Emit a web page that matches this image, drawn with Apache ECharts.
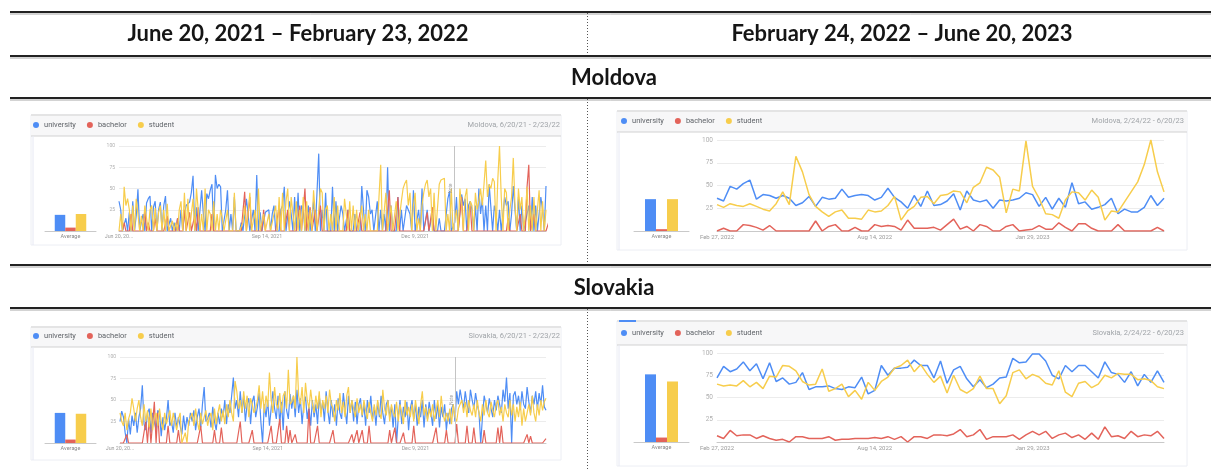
<!DOCTYPE html>
<html><head><meta charset="utf-8">
<script src="https://cdn.jsdelivr.net/npm/echarts@6/dist/echarts.min.js"></script>
<style>html,body{margin:0;padding:0;background:#fff}#c{width:1211px;height:471px}</style>
</head><body><div id="c"></div>
<script>
// ---------------- DATA ----------------
const columnHeaders = ['June 20, 2021 \u2013 February 23, 2022', 'February 24, 2022 \u2013 June 20, 2023'];
const countryHeaders = ['Moldova', 'Slovakia'];
const seriesNames = ['university', 'bachelor', 'student'];
const panelLabels = ['Moldova, 6/20/21 - 2/23/22', 'Moldova, 2/24/22 - 6/20/23', 'Slovakia, 6/20/21 - 2/23/22', 'Slovakia, 2/24/22 - 6/20/23'];
const averageLabel = 'Average';
const noteDate = 'Jan 1, 2022';
const noteText = 'Note';
const dailyTickDates = ['Jun 20, 2021', 'Sep 14, 2021', 'Dec 9, 2021'];
const dailyTickText = ['Jun 20, 20...', 'Sep 14, 2021', 'Dec 9, 2021'];
const weeklyTickDates = ['Feb 27, 2022', 'Aug 14, 2022', 'Jan 29, 2023'];
const weeklyTickText = ['Feb 27, 2022', 'Aug 14, 2022', 'Jan 29, 2023'];

// Moldova, daily Jun 20 2021 - Feb 23 2022
const moldovaDailyUniversity = [35,25,0,0,15,0,22,0,35,0,18,49,0,0,20,0,33,38,41,0,28,35,0,25,34,0,30,41,0,0,15,0,10,0,15,0,25,0,20,30,28,34,45,65,0,28,0,0,48,20,0,44,38,48,55,0,66,50,55,52,0,0,25,48,0,20,0,40,0,0,0,10,0,0,38,40,0,0,25,0,66,0,22,0,0,22,23,25,0,20,30,0,0,0,25,30,52,0,0,35,20,0,40,0,45,0,30,25,0,0,30,0,0,35,0,0,91,0,25,0,45,0,0,0,52,0,35,0,0,30,20,0,0,25,0,0,0,20,0,0,0,53,25,0,48,40,20,25,0,0,35,0,25,0,20,0,75,0,30,0,0,0,40,0,25,0,0,30,25,20,0,48,0,0,25,0,50,0,0,25,0,0,20,0,0,0,15,0,0,0,0,38,47,0,0,10,40,0,0,43,30,38,0,30,35,25,0,30,0,50,20,38,0,30,0,55,57,0,30,20,0,25,0,0,40,30,35,0,20,53,25,0,40,0,30,0,0,20,30,0,40,0,30,0,0,40,25,0,53];
const moldovaDailyBachelor = [0,0,0,10,0,0,0,20,0,0,0,0,0,0,0,25,0,10,0,0,0,15,0,0,0,0,0,0,18,0,0,0,0,0,15,0,0,0,25,0,0,22,0,0,18,0,28,0,0,0,0,0,0,0,20,0,0,0,0,0,0,0,0,0,0,0,0,0,0,0,0,0,0,46,0,0,40,0,0,0,0,0,0,0,25,0,0,0,0,0,0,0,0,30,0,0,0,0,25,0,0,0,0,0,0,30,0,0,50,0,0,28,0,0,25,0,0,30,0,0,0,0,0,0,0,0,0,0,0,0,0,0,0,25,0,0,0,0,0,0,22,0,0,0,0,0,0,0,0,0,0,0,0,0,0,0,0,48,0,0,0,0,40,0,0,0,0,0,0,0,0,0,0,0,0,0,0,0,0,22,0,0,28,0,0,0,0,0,0,0,0,0,0,0,0,0,0,0,0,40,0,0,0,0,30,0,0,0,0,0,0,0,0,0,0,0,0,0,0,0,0,0,0,0,0,0,15,0,0,0,0,0,0,20,0,0,0,52,78,0,0,20,0,0,0,0,0,0,0,0,13];
const moldovaDailyStudent = [0,20,0,52,30,38,25,0,30,0,38,20,0,18,0,30,15,0,25,30,0,27,0,22,30,0,25,0,32,0,0,12,0,10,0,25,35,0,45,0,38,0,20,38,0,50,25,0,20,0,50,0,25,20,0,35,0,20,0,25,15,0,0,25,0,0,0,45,0,0,0,0,10,30,0,0,45,0,0,25,0,50,0,0,20,0,0,20,0,0,20,30,0,40,0,45,0,35,50,0,40,20,0,35,0,25,0,40,0,35,0,25,0,48,20,0,0,50,45,0,25,30,0,20,0,40,0,30,0,0,0,38,20,0,35,0,30,0,25,0,0,30,0,20,0,25,0,0,0,0,0,40,78,0,0,45,0,0,30,0,0,35,0,0,35,50,56,60,30,45,0,30,45,0,15,0,30,45,55,60,40,50,0,45,0,0,55,60,60,62,0,20,0,50,0,0,25,0,50,30,0,40,50,0,35,30,0,45,25,35,50,30,55,83,40,55,50,62,58,0,60,100,40,0,50,45,0,25,40,86,30,0,50,25,40,0,20,52,0,30,0,40,0,25,48,0,35,0,25];
const moldovaDailyAverage = [19, 4, 20];

// Moldova, weekly Feb 27 2022 - Jun 18 2023
const moldovaWeeklyUniversity = [36,33,49,46,52,56,35,40,39,36,39,36,28,31,38,27,37,35,36,46,37,39,40,39,34,37,47,37,32,25,39,27,44,28,29,33,41,23,44,34,32,34,25,34,33,34,36,42,40,27,37,24,36,26,53,30,32,24,26,29,36,19,24,21,21,26,39,28,36];
const moldovaWeeklyBachelor = [0,3,0,0,7,6,4,1,6,0,0,0,0,0,0,11,0,5,7,0,0,4,0,0,7,5,6,5,1,12,3,3,3,4,1,7,13,2,5,0,7,5,0,0,5,7,0,1,2,6,2,2,9,4,0,8,8,3,0,0,0,7,0,0,0,0,0,4,0];
const moldovaWeeklyStudent = [29,26,30,28,27,30,27,24,22,30,43,29,82,65,40,27,21,16,21,23,14,14,13,23,21,22,28,38,12,22,27,37,38,30,39,40,44,43,31,48,53,70,67,59,20,46,44,99,49,36,19,18,14,34,43,42,34,45,37,12,22,21,32,43,54,73,100,65,43];
const moldovaWeeklyAverage = [35, 2, 35];

// Slovakia, daily Jun 20 2021 - Feb 23 2022
const slovakiaDailyUniversity = [25,37,30,12,0,28,10,32,20,35,12,30,40,67,22,15,35,40,12,35,25,15,38,35,8,30,15,28,50,20,25,12,35,18,30,28,10,32,15,30,20,35,25,38,15,30,40,18,45,65,25,28,35,18,42,25,15,35,22,40,30,50,22,45,35,55,76,40,50,30,60,35,55,25,45,52,22,48,55,30,42,58,25,0,45,30,50,20,40,60,40,28,55,22,48,15,60,38,28,57,40,55,30,62,35,52,22,45,54,28,42,20,50,30,45,22,55,35,48,25,60,38,22,50,30,45,20,52,35,28,58,40,22,55,35,50,25,48,22,45,52,30,45,20,50,35,55,28,42,20,48,30,55,35,22,45,50,30,42,18,45,0,30,50,22,42,30,48,15,40,50,28,45,20,42,30,50,18,45,28,48,35,20,50,28,45,18,42,30,45,15,35,22,40,45,25,60,45,62,50,40,60,45,35,62,50,40,58,45,35,0,30,55,45,35,52,40,30,50,38,55,45,35,62,48,76,40,58,0,55,60,45,55,38,60,45,40,65,48,35,55,45,60,40,58,45,67,42,38];
const slovakiaDailyBachelor = [0,0,0,0,10,0,0,0,0,0,0,0,0,0,0,25,0,30,0,0,48,0,35,0,0,0,0,0,20,0,0,0,0,0,15,0,0,0,0,0,0,0,0,0,0,0,0,20,0,0,0,0,0,0,0,15,0,0,0,18,0,0,0,0,0,0,0,0,0,0,25,0,0,0,0,0,0,15,0,0,0,0,0,0,0,0,0,0,20,0,0,0,0,28,0,0,0,20,0,15,0,0,10,0,0,0,0,0,0,0,40,0,0,0,0,20,0,0,0,0,0,0,0,0,15,0,0,0,0,0,0,0,0,0,0,10,0,0,15,0,0,15,0,0,0,20,0,0,0,0,0,0,0,0,0,0,0,15,0,0,18,0,0,0,0,12,0,0,0,0,0,20,0,0,0,0,0,0,0,0,0,0,0,0,18,0,0,0,0,0,15,0,0,0,0,0,22,0,0,0,0,0,20,0,0,0,18,0,0,0,0,0,15,0,0,0,0,0,0,0,18,0,20,0,0,0,0,0,0,0,0,0,0,0,0,0,0,10,0,8,0,0,0,0,0,0,0,0,5];
const slovakiaDailyStudent = [35,25,20,35,15,28,35,52,40,25,40,50,30,20,45,25,38,18,40,15,30,35,20,40,25,15,35,22,30,38,20,35,25,15,28,35,0,0,12,0,25,30,35,20,40,25,15,35,22,30,38,20,30,35,15,40,22,35,45,25,38,22,45,30,50,35,25,72,60,40,50,35,60,40,55,30,52,45,35,40,50,67,40,60,35,55,42,82,50,35,65,45,40,58,35,55,60,40,85,45,48,55,40,100,55,45,65,35,70,50,40,62,45,35,55,40,60,30,50,40,55,35,62,45,40,25,50,38,58,35,48,30,55,65,35,50,40,30,52,35,45,32,50,38,28,48,35,25,45,32,50,35,28,62,40,32,50,25,45,35,30,48,25,45,35,22,50,32,42,30,45,25,50,35,22,45,60,32,42,25,40,30,45,25,38,50,30,55,35,25,35,25,40,22,45,30,25,40,45,50,35,48,30,50,38,32,45,30,50,35,25,45,32,50,35,30,48,38,30,45,50,32,42,25,45,35,30,50,32,45,25,42,30,48,20,40,25,35,45,32,55,35,25,45,32,50,38,48,52];
const slovakiaDailyAverage = [35, 4, 34];

// Slovakia, weekly Feb 27 2022 - Jun 18 2023
const slovakiaWeeklyUniversity = [72,85,79,82,90,80,88,71,89,68,72,65,67,78,59,62,62,63,60,59,62,61,73,54,58,86,75,83,83,84,92,86,86,72,91,66,81,85,71,62,70,61,65,72,73,94,89,90,99,99,91,75,71,86,79,86,86,79,72,90,78,76,67,79,63,76,67,80,67];
const slovakiaWeeklyBachelor = [7,4,13,7,8,8,4,7,4,2,3,0,6,6,4,4,4,6,2,3,3,4,4,4,5,4,6,3,6,0,6,6,4,8,8,7,9,14,6,8,14,3,6,6,6,8,3,8,12,8,12,4,8,10,5,8,3,10,3,17,6,7,4,12,6,8,7,12,4];
const slovakiaWeeklyStudent = [65,63,64,63,69,62,67,60,74,73,86,85,80,68,64,65,82,57,60,65,51,58,48,67,58,68,73,83,86,92,79,87,76,67,74,55,75,59,55,60,74,60,60,43,52,78,81,71,76,73,66,64,80,56,51,66,68,61,65,75,72,77,76,76,70,71,69,62,60];
const slovakiaWeeklyAverage = [76, 5, 68];

// ---------------- CATEGORIES ----------------
const MONTHS = ['Jan','Feb','Mar','Apr','May','Jun','Jul','Aug','Sep','Oct','Nov','Dec'];
function makeDates(y, m, d, count, step) {
  const out = [];
  for (let i = 0; i < count; i++) {
    const t = new Date(Date.UTC(y, m - 1, d + i * step));
    out.push(MONTHS[t.getUTCMonth()] + ' ' + t.getUTCDate() + ', ' + t.getUTCFullYear());
  }
  return out;
}
const dailyDates = makeDates(2021, 6, 20, moldovaDailyUniversity.length, 1);
const weeklyDates = makeDates(2022, 2, 27, moldovaWeeklyUniversity.length, 7);

// ---------------- LAYOUT / STYLE ----------------
const COLORS = ['#4e8df5', '#e3635a', '#f7cd4c'];
const FONT = 'Roboto, "Noto Sans", sans-serif';
const panels = [
  { cats: dailyDates, ticks: dailyTickDates, tickText: dailyTickText, series: [moldovaDailyUniversity, moldovaDailyBachelor, moldovaDailyStudent], avg: moldovaDailyAverage, label: panelLabels[0], note: true,
    card: {x: 31, y: 115, w: 530, h: 130, hh: 21}, line: {left: 119, top: 146, width: 427, height: 85}, bar: {left: 45, top: 146, width: 51, height: 85},
    legend: {left: 33, top: 121}, labelRight: 560, labelY: 125, lw: 1.2, yfs: 5, xfs: 5.3, barW: 10.5, tab: false },
  { cats: weeklyDates, ticks: weeklyTickDates, tickText: weeklyTickText, series: [moldovaWeeklyUniversity, moldovaWeeklyBachelor, moldovaWeeklyStudent], avg: moldovaWeeklyAverage, label: panelLabels[1], note: false,
    card: {x: 617, y: 111, w: 570, h: 139, hh: 21}, line: {left: 717, top: 140, width: 447, height: 91}, bar: {left: 634, top: 140, width: 55, height: 91},
    legend: {left: 621, top: 117}, labelRight: 1184, labelY: 121, lw: 1.5, yfs: 6.5, xfs: 6, barW: 11, tab: false },
  { cats: dailyDates, ticks: dailyTickDates, tickText: dailyTickText, series: [slovakiaDailyUniversity, slovakiaDailyBachelor, slovakiaDailyStudent], avg: slovakiaDailyAverage, label: panelLabels[2], note: true,
    card: {x: 31, y: 327, w: 530, h: 133, hh: 20}, line: {left: 120, top: 357, width: 426, height: 86}, bar: {left: 45, top: 357, width: 51, height: 86},
    legend: {left: 33, top: 332}, labelRight: 560, labelY: 336, lw: 1.2, yfs: 5, xfs: 5.3, barW: 10.5, tab: false },
  { cats: weeklyDates, ticks: weeklyTickDates, tickText: weeklyTickText, series: [slovakiaWeeklyUniversity, slovakiaWeeklyBachelor, slovakiaWeeklyStudent], avg: slovakiaWeeklyAverage, label: panelLabels[3], note: false,
    card: {x: 617, y: 321, w: 570, h: 145, hh: 24}, line: {left: 717, top: 353, width: 447, height: 89}, bar: {left: 634, top: 353, width: 55, height: 89},
    legend: {left: 621, top: 329}, labelRight: 1184, labelY: 333, lw: 1.5, yfs: 6.5, xfs: 6, barW: 11, tab: true }
];

const grids = [], xAxes = [], yAxes = [], series = [], legends = [], graphics = [];

// table rules
[12, 56, 98, 265, 308].forEach(y => {
  graphics.push({ type: 'line', z: 10, shape: {x1: 10, y1: y, x2: 1211, y2: y}, style: {stroke: '#222', lineWidth: 2} });
  graphics.push({ type: 'line', z: 10, shape: {x1: 10, y1: y + 2, x2: 1211, y2: y + 2}, style: {stroke: '#a8a8a8', lineWidth: 1} });
});
[[13, 55], [99, 264], [309, 471]].forEach(s => {
  graphics.push({ type: 'line', z: 10, shape: {x1: 587.5, y1: s[0], x2: 587.5, y2: s[1]}, style: {stroke: '#555', lineWidth: 1, lineDash: [1, 2]} });
});
[[298, 34], [902, 34]].forEach((p, i) => {
  graphics.push({ type: 'text', z: 10, x: p[0], y: p[1], style: {text: columnHeaders[i], font: 'bold 22px Lato, "Liberation Sans", sans-serif', fill: '#151515', textAlign: 'center', textVerticalAlign: 'middle'} });
});
[[614, 78], [614, 288]].forEach((p, i) => {
  graphics.push({ type: 'text', z: 10, x: p[0], y: p[1], style: {text: countryHeaders[i], font: 'bold 22px Lato, "Liberation Sans", sans-serif', fill: '#151515', textAlign: 'center', textVerticalAlign: 'middle'} });
});

panels.forEach((p, pi) => {
  const c = p.card;
  graphics.push({ type: 'rect', z: -10, shape: {x: c.x, y: c.y, width: c.w, height: c.h}, style: {fill: '#fff', stroke: '#eceef4', lineWidth: 1} });
  graphics.push({ type: 'rect', z: -9, shape: {x: c.x, y: c.y, width: c.w, height: c.hh}, style: {fill: '#f7f7f8'} });
  graphics.push({ type: 'line', z: -8, shape: {x1: c.x, y1: c.y, x2: c.x + c.w, y2: c.y}, style: {stroke: '#dedede', lineWidth: 1.5} });
  graphics.push({ type: 'line', z: -8, shape: {x1: c.x, y1: c.y + c.hh, x2: c.x + c.w, y2: c.y + c.hh}, style: {stroke: '#d2d2d2', lineWidth: 1.2} });
  graphics.push({ type: 'line', z: -8, shape: {x1: c.x + 2, y1: c.y + c.hh, x2: c.x + 2, y2: c.y + c.h}, style: {stroke: '#e6e8f3', lineWidth: 1} });
  if (p.tab) graphics.push({ type: 'line', z: -7, shape: {x1: c.x + 2, y1: c.y, x2: c.x + 19, y2: c.y}, style: {stroke: '#4e8df5', lineWidth: 2} });
  graphics.push({ type: 'text', z: 5, x: p.labelRight, y: p.labelY, style: {text: p.label, font: '7.5px ' + FONT, fill: '#a0a4a8', textAlign: 'right', textVerticalAlign: 'middle'} });

  legends.push({ left: p.legend.left, top: p.legend.top, padding: 0, icon: 'circle', itemWidth: 6, itemHeight: 6, itemGap: 11, selectedMode: false,
    data: seriesNames, textStyle: {fontFamily: FONT, fontSize: 7.5, color: '#5f6368'} });

  const gl = grids.length;
  grids.push(Object.assign({containLabel: false}, p.line));
  grids.push(Object.assign({containLabel: false}, p.bar));

  xAxes.push({ gridIndex: gl, type: 'category', data: p.cats, boundaryGap: false,
    axisTick: {show: false}, axisLine: {lineStyle: {color: '#c9c9c9', width: 1}},
    axisLabel: { interval: (idx, val) => p.ticks.indexOf(val) >= 0, formatter: val => p.tickText[p.ticks.indexOf(val)] || '',
      fontFamily: FONT, fontSize: p.xfs, color: '#9a9a9a', margin: 3 } });
  xAxes.push({ gridIndex: gl + 1, type: 'category', data: [averageLabel],
    axisTick: {show: false}, axisLine: {lineStyle: {color: '#c9c9c9', width: 1}},
    axisLabel: { fontFamily: FONT, fontSize: 5.5, color: '#8a8a8a', margin: 3 } });
  yAxes.push({ gridIndex: gl, type: 'value', min: 0, max: 100, interval: 25,
    axisLine: {show: false}, axisTick: {show: false},
    splitLine: {lineStyle: {color: '#ececec', width: 1}},
    axisLabel: { formatter: v => v === 0 ? '' : String(v), fontFamily: FONT, fontSize: p.yfs, color: '#b0b0b0', margin: 4 } });
  yAxes.push({ gridIndex: gl + 1, type: 'value', min: 0, max: 100, show: false });

  seriesNames.forEach((name, si) => {
    const s = { name: name, type: 'line', xAxisIndex: gl, yAxisIndex: gl, data: p.series[si],
      showSymbol: false, symbol: 'none', smooth: false, animation: false, z: 2 + (si === 1 ? 0 : si),
      lineStyle: {width: p.lw, color: COLORS[si]}, itemStyle: {color: COLORS[si]} };
    if (si === 0 && p.note) {
      s.markLine = { symbol: 'none', silent: true, animation: false,
        lineStyle: {color: '#c4c4c4', width: 1, type: 'solid'},
        label: {show: true, formatter: noteText, position: 'insideMiddleTop', fontFamily: FONT, fontSize: 4.5, color: '#999', distance: 1},
        data: [{xAxis: noteDate}] };
    }
    series.push(s);
  });
  seriesNames.forEach((name, si) => {
    series.push({ name: name, type: 'bar', xAxisIndex: gl + 1, yAxisIndex: gl + 1, data: [p.avg[si]],
      barWidth: p.barW, barGap: '0%', animation: false, itemStyle: {color: COLORS[si]} });
  });
});

const chart = echarts.init(document.getElementById('c'), null, {renderer: 'canvas'});
chart.setOption({
  backgroundColor: '#ffffff',
  animation: false,
  color: COLORS,
  grid: grids, xAxis: xAxes, yAxis: yAxes, legend: legends, series: series,
  graphic: { elements: graphics }
});
</script></body></html>
